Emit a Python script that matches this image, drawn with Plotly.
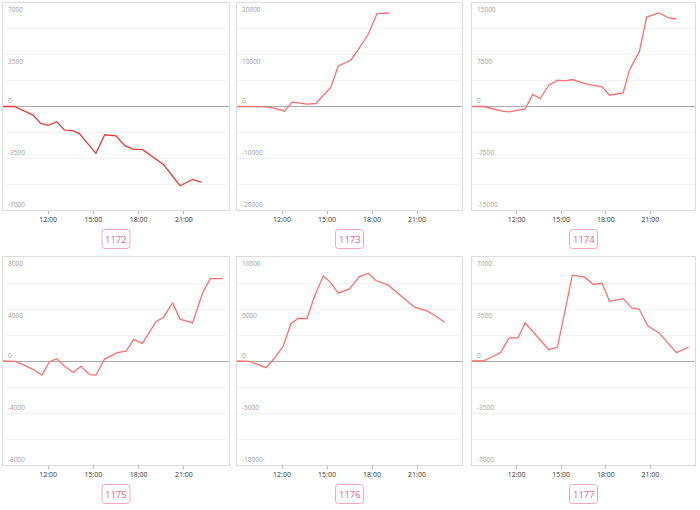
import plotly.graph_objects as go

DAY = "2024-01-01 "
NEXT_DAY = "2024-01-02 "

names = ["1172", "1173", "1174", "1175", "1176", "1177"]
y_max = [7000, 20000, 15000, 8000, 10000, 7000]
x_ticks = ["12:00", "15:00", "18:00", "21:00"]

t1172 = ["09:00", "09:45", "11:00", "11:30", "12:00", "12:35", "13:05", "13:35", "14:05", "15:10",
         "15:45", "16:30", "17:05", "17:40", "18:15", "19:40", "20:45", "21:35", "22:10"]
v1172 = [0, 0, -585, -1150, -1280, -1030, -1600, -1620, -1850, -3170,
         -1910, -1980, -2650, -2900, -2900, -3940, -5360, -4930, -5110]

t1173 = ["09:00", "11:00", "11:35", "12:10", "12:40", "13:40", "14:15", "14:40", "15:15", "15:45",
         "16:35", "17:05", "17:45", "18:20", "19:10"]
v1173 = [0, -60, -390, -900, 840, 450, 580, 1870, 3670, 7840,
         8940, 11000, 13950, 17940, 18070]

t1174 = ["09:00", "09:45", "10:20", "11:00", "11:30", "12:05", "12:35", "13:05", "13:35", "14:10",
         "14:45", "15:15", "15:45", "16:35", "17:10", "17:45", "18:15", "19:10", "19:35", "20:15",
         "20:45", "21:35", "22:15", "22:45"]
v1174 = [0, 0, -290, -680, -770, -580, -340, 1740, 1160, 3090,
         3810, 3710, 3910, 3330, 3040, 2850, 1640, 1980, 5260, 7910,
         12970, 13550, 12830, 12680]

t1175 = ["09:00", "09:50", "10:25", "11:00", "11:35", "12:05", "12:35", "13:05", "13:40", "14:10",
         "14:45", "15:10", "15:45", "16:35", "17:10", "17:40", "18:15", "19:10", "19:40", "20:15",
         "20:45", "21:35", "22:15", "22:45", "23:35"]
v1175 = [0, -30, -330, -640, -1080, -50, 180, -410, -880, -410,
         -1050, -1080, 150, 640, 750, 1670, 1360, 3040, 3370, 4480,
         3220, 2930, 5250, 6330, 6330]

t1176 = ["09:00", "09:50", "10:55", "11:30", "12:05", "12:35", "13:05", "13:40", "14:10", "14:45",
         "15:15", "15:45", "16:30", "17:10", "17:45", "18:15", "19:05", "20:00", "20:50", "21:40",
         "22:15", "22:50"]
v1176 = [0, -30, -640, 260, 1440, 3560, 4110, 4080, 6200, 8190,
         7540, 6520, 6930, 8120, 8440, 7740, 7290, 6200, 5170, 4820,
         4330, 3720]

t1177 = ["09:00", "09:45", "10:20", "10:55", "11:30", "12:05", "12:35", "13:05", "13:35", "14:10",
         "14:45", "15:15", "15:45", "16:35", "17:10", "17:45", "18:15", "19:10", "19:45", "20:15",
         "20:50", "21:35", "22:10", "22:45", "23:35"]
v1177 = [0, 0, 270, 560, 1550, 1550, 2560, 2000, 1390, 760,
         940, 3300, 5780, 5640, 5150, 5240, 4020, 4200, 3570, 3480,
         2360, 1890, 1240, 560, 940]

times = [t1172, t1173, t1174, t1175, t1176, t1177]
values = [v1172, v1173, v1174, v1175, v1176, v1177]
line_colors = ["#ec3b3b", "#ff6f6f", "#ff6f6f", "#ff6f6f", "#ff6f6f", "#ff6f6f"]

W, H = 700, 510
# panel boxes in pixels: (left, right, top, bottom)
boxes = [(3, 229, 3, 210), (237, 462, 3, 210), (472, 695, 3, 210),
         (3, 229, 257, 465), (237, 462, 257, 465), (472, 695, 257, 465)]
label_y = [239, 239, 239, 494, 494, 494]

FONT = "Open Sans, Noto Sans, sans-serif"

fig = go.Figure()
shapes = []
annotations = []


def px(x):
    return x / W


def py(y):
    return 1 - y / H


for i in range(6):
    n = i + 1
    xa = "xaxis" if n == 1 else f"xaxis{n}"
    ya = "yaxis" if n == 1 else f"yaxis{n}"
    xr = "x" if n == 1 else f"x{n}"
    yr = "y" if n == 1 else f"y{n}"
    l, r, t, b = boxes[i]
    m = y_max[i]

    fig.add_trace(go.Scatter(
        x=[DAY + s for s in times[i]], y=values[i], mode="lines",
        line=dict(color=line_colors[i], width=1.3), xaxis=xr, yaxis=yr,
        showlegend=False, hoverinfo="x+y"))

    fig.layout[xa] = dict(
        domain=[l / W, r / W], anchor=yr, type="date",
        range=[DAY + "09:00", NEXT_DAY + "00:00"],
        tickvals=[DAY + s for s in x_ticks], ticktext=x_ticks,
        showgrid=False, showline=True, mirror=True, linecolor="#dcdcdc", linewidth=1,
        ticks="outside", ticklen=3, tickcolor="#bbbbbb",
        tickfont=dict(size=7, color="#333333", family=FONT), zeroline=False,
        fixedrange=True, automargin=False)
    fig.layout[ya] = dict(
        domain=[1 - b / H, 1 - t / H], anchor=xr,
        range=[-m, m], dtick=m / 4, tick0=0,
        showgrid=True, gridcolor="#f2f2f2", gridwidth=1,
        showline=True, mirror=True, linecolor="#dcdcdc", linewidth=1,
        zeroline=True, zerolinecolor="#aaaaaa", zerolinewidth=1,
        showticklabels=False, ticks="", fixedrange=True, automargin=False)

    for tv in [m, m / 2, 0, -m / 2, -m]:
        annotations.append(dict(
            x=0, xref=f"{xr} domain", xanchor="left", xshift=3,
            y=tv, yref=yr, yanchor="middle",
            yshift=-6.5 if tv > 0 else 5.5,
            text=str(int(tv)), showarrow=False,
            font=dict(size=6.5, color="#a0a0a0", family=FONT)))

    # label box below each panel
    cx = (l + r) / 2
    cy = label_y[i]
    bw, bh, rad = 28, 19, 3
    x0, x1 = cx - bw / 2, cx + bw / 2
    y0, y1 = cy - bh / 2, cy + bh / 2
    path = (f"M {px(x0 + rad)},{py(y0)} L {px(x1 - rad)},{py(y0)} "
            f"Q {px(x1)},{py(y0)} {px(x1)},{py(y0 + rad)} "
            f"L {px(x1)},{py(y1 - rad)} Q {px(x1)},{py(y1)} {px(x1 - rad)},{py(y1)} "
            f"L {px(x0 + rad)},{py(y1)} Q {px(x0)},{py(y1)} {px(x0)},{py(y1 - rad)} "
            f"L {px(x0)},{py(y0 + rad)} Q {px(x0)},{py(y0)} {px(x0 + rad)},{py(y0)} Z")
    shapes.append(dict(type="path", xref="paper", yref="paper", path=path,
                       line=dict(color="#f7a6bf", width=1), fillcolor="white", layer="above"))
    annotations.append(dict(
        x=cx / W, y=1 - cy / H, xref="paper", yref="paper",
        xanchor="center", yanchor="middle", text=names[i], showarrow=False,
        font=dict(size=9.5, color="#ee5f8c", family=FONT)))

fig.update_layout(
    width=W, height=H, margin=dict(l=0, r=0, t=0, b=0, pad=0),
    paper_bgcolor="white", plot_bgcolor="white",
    shapes=shapes, annotations=annotations,
    font=dict(family=FONT))

fig.write_html(
    "out.html",
    config={"displayModeBar": False},
    post_script="document.body.style.margin='0';document.body.style.padding='0';"
                "document.body.style.overflow='hidden';")
